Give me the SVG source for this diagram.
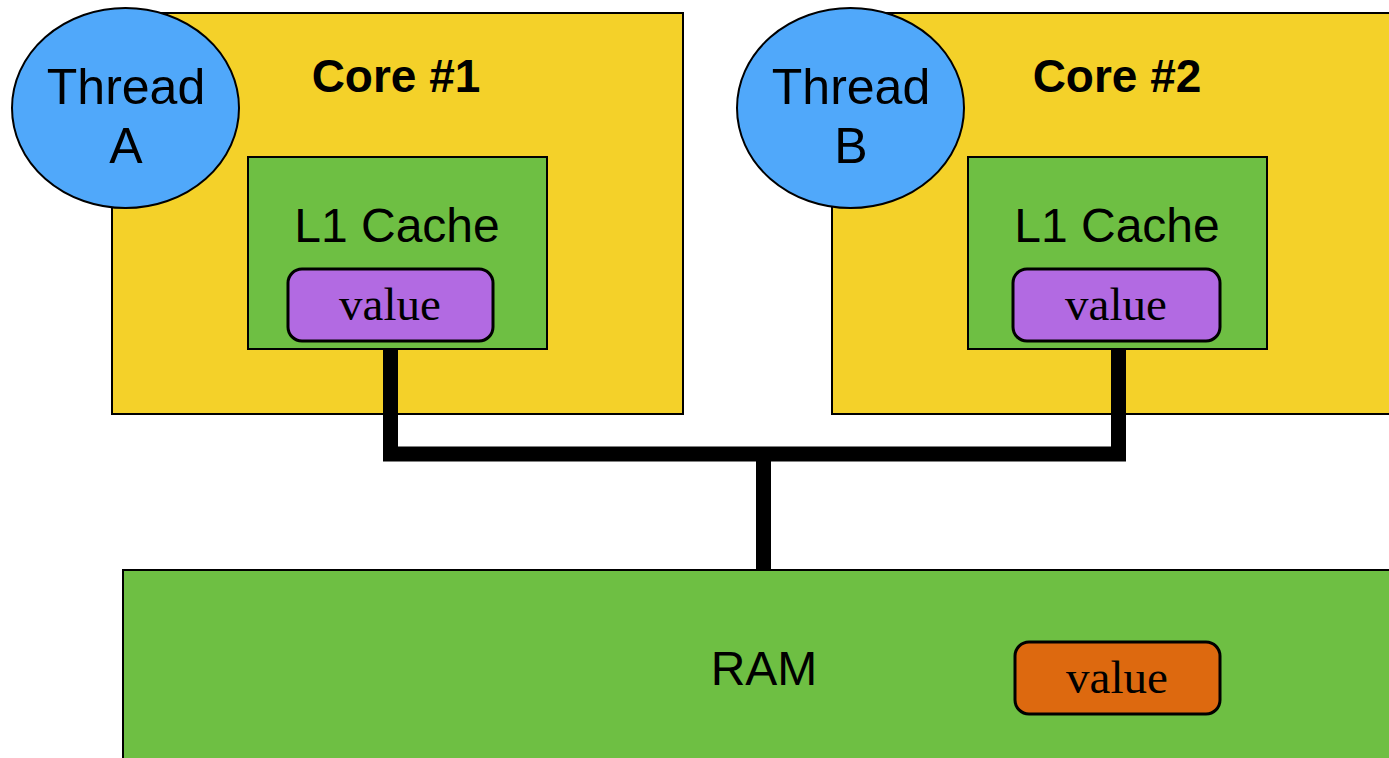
<svg xmlns="http://www.w3.org/2000/svg" width="1389" height="758" viewBox="0 0 1389 758">
<style>
.core{fill:#F4D129;stroke:#000;stroke-width:2}
.cache{fill:#6EBF43;stroke:#000;stroke-width:2}
.thread{fill:#50A8FA;stroke:#000;stroke-width:2}
.val{fill:#B26AE2;stroke:#000;stroke-width:3}
.ramval{fill:#DD690F;stroke:#000;stroke-width:3}
.sans{font-family:"Liberation Sans",Arial,sans-serif;fill:#000;text-anchor:middle}
.serif{font-family:"Liberation Serif","Times New Roman",serif;fill:#000;text-anchor:middle;font-size:47px}
.bus{fill:none;stroke:#000;stroke-width:15;stroke-linejoin:miter}
</style>
<rect width="1389" height="758" fill="#fff"/>
<g id="core1">
<rect class="core" x="112" y="13" width="571" height="401"/>
<text class="sans" x="396" y="92" font-size="46" font-weight="bold">Core #1</text>
</g>
<g id="core2">
<rect class="core" x="832" y="13" width="580" height="401"/>
<text class="sans" x="1117" y="92" font-size="46" font-weight="bold">Core #2</text>
</g>
<g id="threadA">
<ellipse class="thread" cx="125.5" cy="108" rx="113.5" ry="100"/>
<text class="sans" x="126" y="104" font-size="50">Thread</text>
<text class="sans" x="126" y="163" font-size="50">A</text>
</g>
<g id="threadB">
<ellipse class="thread" cx="850.5" cy="108" rx="113.5" ry="100"/>
<text class="sans" x="851" y="104" font-size="50">Thread</text>
<text class="sans" x="851" y="163" font-size="50">B</text>
</g>
<g id="cache1">
<rect class="cache" x="248" y="157" width="299" height="192"/>
<text class="sans" x="397" y="242" font-size="48">L1 Cache</text>
</g>
<g id="cache2">
<rect class="cache" x="968" y="157" width="299" height="192"/>
<text class="sans" x="1117" y="242" font-size="48">L1 Cache</text>
</g>
<g id="value1">
<rect class="val" x="288" y="269" width="205" height="72" rx="14"/>
<text class="serif" x="390" y="320">value</text>
</g>
<g id="value2">
<rect class="val" x="1013" y="269" width="207" height="72" rx="14"/>
<text class="serif" x="1116" y="320">value</text>
</g>
<g id="connectors">
<path class="bus" d="M390.5 349 V454 H1118.5 V349"/>
<path class="bus" d="M763.5 454 V571"/>
</g>
<g id="ram">
<rect class="cache" x="123" y="570" width="1290" height="200"/>
<text class="sans" x="764" y="685" font-size="48">RAM</text>
</g>
<g id="ramvalue">
<rect class="ramval" x="1015" y="642" width="205" height="72" rx="14"/>
<text class="serif" x="1117" y="693">value</text>
</g>
</svg>
